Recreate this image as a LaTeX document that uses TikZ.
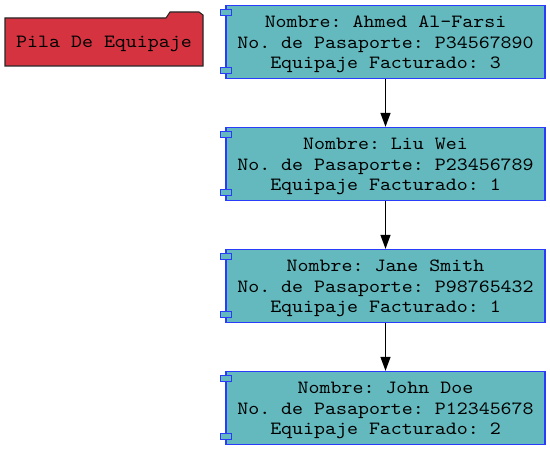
\documentclass[tikz,border=0pt]{standalone}
\usepackage{fontspec}
\setmonofont{lmmono10-regular}[Extension=.otf, FakeStretch=1.12]
\usetikzlibrary{arrows.meta, calc, positioning}
\definecolor{cardfill}{RGB}{99,185,190}
\definecolor{cardline}{RGB}{40,60,250}
\definecolor{folderfill}{RGB}{214,51,65}
\tikzset{
    card/.style={draw=cardline, line width=1pt, fill=cardfill, minimum width=239.25pt, minimum height=54.75pt, inner sep=0pt},
    cardtext/.style={align=center, inner sep=0pt, font=\ttfamily\fontsize{14}{15.4}\selectfont},
    cardtab/.style={draw=cardline, line width=0.8pt, fill=cardfill},
    folder/.style={draw=black!85, line width=0.8pt, fill=folderfill},
    link/.style={-{Triangle[length=10.5pt,width=7.5pt]}, line width=1pt, black},
}
\newcommand{\passenger}[5]{
    \node[card] (#1) at (#2) {};
    \node[cardtext] (#1-t) at ($(#1.center)+(0, 2.5)$) {Nombre: #3\\No. de Pasaporte: #4\\Equipaje Facturado: #5};
    \draw[cardtab] ($(#1.north west)+(-5, 5)$) rectangle ++(11, 6);
    \draw[cardtab] ($(#1.south west)+(-5, -12)$) rectangle ++(11, 6);
}

\begin{document}
\begin{tikzpicture}[x=0.75pt, y=-0.75pt]
                    \useasboundingbox (0, 0) rectangle (550, 449);
                    \draw[folder] (5, 18) -- (166, 18) -- (170, 12) -- (199, 12) -- (203, 15) -- (203, 66) -- (5, 66) -- cycle;
                    \node[cardtext] (stack) at (104, 44) {Pila De Equipaje};
                    \passenger{ahmed}{385.5, 42}{Ahmed Al-Farsi}{P34567890}{3}
                    \passenger{liu}{385.5, 164}{Liu Wei}{P23456789}{1}
                    \passenger{jane}{385.5, 286}{Jane Smith}{P98765432}{1}
                    \passenger{john}{385.5, 408}{John Doe}{P12345678}{2}
                    \draw[link]
                    (ahmed) edge (liu)
                    (liu) edge (jane)
                    (jane) edge (john);
                \end{tikzpicture}
\end{document}
